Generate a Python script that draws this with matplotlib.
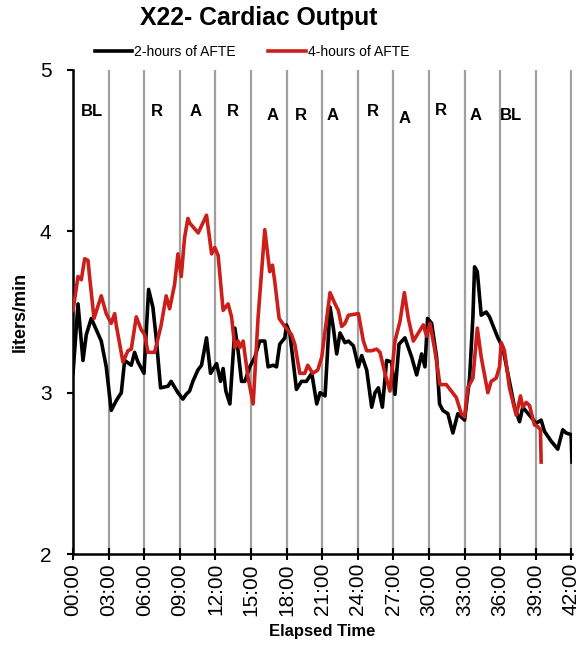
import matplotlib
matplotlib.use("Agg")
import matplotlib.pyplot as plt

plt.rcParams['font.family'] = ['Liberation Sans', 'DejaVu Sans']

title = "X22- Cardiac Output"
series_names = ["2-hours of AFTE", "4-hours of AFTE"]
tick_hours = list(range(0, 43, 3))
tick_labels = ["00:00", "03:00", "06:00", "09:00", "12:00", "15:00", "18:00", "21:00",
               "24:00", "27:00", "30:00", "33:00", "36:00", "39:00", "42:00"]

black_hours = [0.0, 0.42, 0.84, 1.12, 1.54, 1.96, 2.38, 2.80, 3.22, 3.64, 4.07, 4.35, 4.91, 5.19,
               5.47, 5.98, 6.37, 6.73, 7.01, 7.38, 8.00, 8.27, 8.84, 9.26, 9.54, 9.82, 10.10,
               10.52, 10.83, 11.25, 11.59, 12.10, 12.43, 12.65, 12.88, 13.22, 13.64, 13.91, 14.20,
               14.48, 14.90, 15.32, 15.74, 16.16, 16.44, 16.86, 17.15, 17.42, 17.85, 17.99, 18.27,
               18.83, 19.25, 19.67, 20.12, 20.54, 20.82, 21.24, 21.66, 21.94, 22.22, 22.50, 22.92,
               23.21, 23.63, 24.05, 24.33, 24.75, 25.17, 25.45, 25.73, 26.07, 26.43, 26.85, 27.13,
               27.47, 27.97, 28.54, 28.96, 29.38, 29.66, 29.88, 30.22, 30.64, 30.89, 31.17, 31.59,
               32.01, 32.43, 33.00, 33.42, 33.70, 33.84, 34.07, 34.40, 34.82, 35.10, 35.80, 36.22,
               36.64, 37.21, 37.63, 37.90, 38.47, 39.03, 39.45, 39.73, 40.29, 40.85, 41.27, 41.56,
               41.98, 42.05]
black_vals = [3.12, 3.55, 3.20, 3.36, 3.46, 3.39, 3.32, 3.16, 2.89, 2.95, 3.00, 3.20, 3.17, 3.25,
              3.19, 3.12, 3.64, 3.53, 3.34, 3.03, 3.04, 3.07, 3.00, 2.96, 2.99, 3.01, 3.07,
              3.14, 3.17, 3.34, 3.12, 3.18, 3.07, 3.15, 3.01, 2.93, 3.40, 3.26, 3.07,
              3.07, 3.16, 3.22, 3.32, 3.32, 3.16, 3.17, 3.16, 3.30, 3.34, 3.42, 3.37,
              3.02, 3.07, 3.07, 3.12, 2.93, 3.00, 2.98, 3.53, 3.40, 3.24, 3.37, 3.31,
              3.32, 3.29, 3.16, 3.23, 3.14, 2.91, 3.00, 3.03, 2.91, 3.20, 3.19, 2.99,
              3.30, 3.34, 3.22, 3.11, 3.24, 3.16, 3.46, 3.43, 3.22, 2.93, 2.89, 2.87,
              2.75, 2.87, 2.83, 3.09, 3.47, 3.78, 3.75, 3.48, 3.50, 3.47, 3.34, 3.28,
              3.12, 2.91, 2.82, 2.91, 2.86, 2.81, 2.83, 2.76, 2.70, 2.65, 2.77, 2.75,
              2.74, 2.57]

red_hours = [0.0, 0.42, 0.70, 0.98, 1.26, 1.41, 1.77, 2.38, 2.80, 3.22, 3.51, 3.64, 4.21, 4.63,
             4.91, 5.33, 5.75, 6.04, 6.31, 6.88, 7.43, 7.85, 8.14, 8.56, 8.84, 9.12, 9.40, 9.68,
             9.85, 10.55, 11.25, 11.68, 11.95, 12.23, 12.65, 13.07, 13.36, 13.64, 13.91, 14.06,
             14.34, 14.48, 14.76, 15.18, 15.60, 16.16, 16.58, 16.81, 17.00, 17.37, 17.85, 18.41,
             18.69, 19.11, 19.53, 19.78, 20.20, 20.62, 20.96, 21.38, 21.66, 22.08, 22.36, 22.64,
             22.92, 23.21, 24.05, 24.47, 24.75, 25.17, 25.59, 25.87, 26.29, 26.71, 27.13, 27.55,
             27.92, 28.26, 28.68, 29.10, 29.52, 29.80, 30.08, 30.50, 30.92, 31.46, 31.88, 32.30,
             32.72, 33.00, 33.27, 33.70, 34.07, 34.40, 34.96, 35.24, 35.66, 35.94, 36.09, 36.36,
             36.78, 37.35, 37.71, 37.90, 38.19, 38.47, 38.89, 39.17, 39.39, 39.45]
red_vals = [3.51, 3.72, 3.70, 3.83, 3.82, 3.71, 3.46, 3.60, 3.49, 3.43, 3.49, 3.42, 3.19, 3.26,
            3.27, 3.47, 3.39, 3.36, 3.25, 3.25, 3.42, 3.60, 3.52, 3.67, 3.86, 3.72, 3.96, 4.08,
            4.05, 3.99, 4.10, 3.86, 3.90, 3.85, 3.51, 3.55, 3.47, 3.28, 3.32, 3.28,
            3.32, 3.24, 3.09, 2.93, 3.47, 4.01, 3.75, 3.79, 3.69, 3.46, 3.41, 3.36,
            3.30, 3.12, 3.12, 3.17, 3.12, 3.14, 3.22, 3.46, 3.62, 3.55, 3.51, 3.41,
            3.43, 3.48, 3.49, 3.32, 3.26, 3.26, 3.27, 3.25, 3.12, 3.01, 3.32, 3.44,
            3.62, 3.46, 3.32, 3.37, 3.42, 3.35, 3.43, 3.26, 3.05, 3.05, 3.01, 2.97,
            2.87, 2.85, 3.03, 3.09, 3.40, 3.22, 3.00, 3.07, 3.09, 3.16, 3.31, 3.26,
            3.03, 2.86, 2.98, 2.91, 2.94, 2.92, 2.80, 2.79, 2.77, 2.57]

phase_labels = ["BL", "R", "A", "R", "A", "R", "A", "R", "A", "R", "A", "BL"]
phase_hours = [1.6, 7.07, 10.35, 13.44, 16.84, 19.17, 21.9, 25.3, 27.9, 31.0, 33.9, 36.9]
phase_vals = [4.74, 4.74, 4.74, 4.74, 4.72, 4.72, 4.72, 4.74, 4.70, 4.75, 4.72, 4.72]

fig = plt.figure(figsize=(5.86, 6.62), dpi=100)
ax = fig.add_axes([0.1246, 0.1631, 0.8515, 0.7312])

ax.plot(black_hours, black_vals, color='black', lw=2.6, label=series_names[0], zorder=3)
ax.plot(red_hours, red_vals, color='#cc1e1a', lw=2.6, label=series_names[1], zorder=4)

for lab, h, v in zip(phase_labels, phase_hours, phase_vals):
    ax.text(h, v, lab, ha='center', va='center', fontsize=12, fontweight='bold', zorder=5)

ax.set_xlim(0, 42.05)
ax.set_ylim(2, 5)
ax.set_xticks(tick_hours)
ax.set_xticklabels(tick_labels, rotation=90, fontsize=15)
ax.set_yticks([2, 3, 4, 5])
ax.tick_params(axis='y', labelsize=15, length=4.5, width=1.5, direction='out', pad=11)
ax.tick_params(axis='x', length=8, width=1.5, direction='inout', pad=2.5)
ax.grid(axis='x', color='#a0a0a0', lw=1.6, zorder=1)
ax.set_axisbelow(True)

for s in ['top', 'right']:
    ax.spines[s].set_visible(False)
for s in ['left', 'bottom']:
    ax.spines[s].set_linewidth(1.8)

ax.set_ylabel("liters/min", fontsize=13, fontweight='bold', labelpad=8)
ax.set_xlabel("Elapsed Time", fontsize=12, fontweight='bold', labelpad=6)

fig.text(259 / 586, 1 - 18 / 662, title, ha='center', va='center', fontsize=17.8, fontweight='bold')
fig.legend(loc='center', bbox_to_anchor=(252 / 586, 1 - 52 / 662), ncol=2, frameon=False,
           fontsize=10, handlelength=2.7, handletextpad=0.15, columnspacing=2.3)

fig.savefig("out.png", dpi=100)
